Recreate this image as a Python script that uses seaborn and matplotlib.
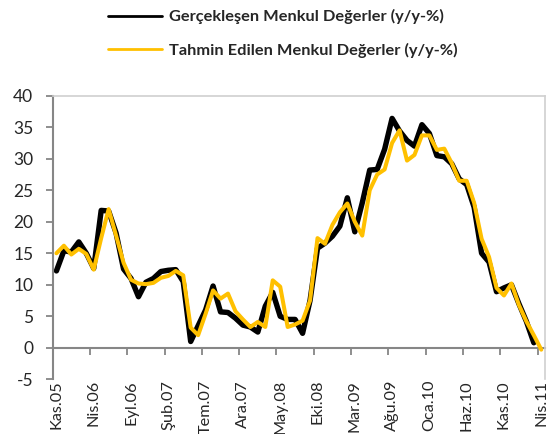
import numpy as np
import pandas as pd
import matplotlib
matplotlib.use("Agg")
import matplotlib.pyplot as plt
import seaborn as sns

# aylık veri: Kas.05 - Nis.11
etiketler = ["Kas.05", "Nis.06", "Eyl.06", "Şub.07", "Tem.07", "Ara.07", "May.08",
             "Eki.08", "Mar.09", "Ağu.09", "Oca.10", "Haz.10", "Kas.10", "Nis.11"]

gerceklesen = [12.2, 15.4, 15.2, 16.8, 15.0, 12.6, 21.8, 21.7, 18.2, 12.5,
               11.0, 8.1, 10.4, 11.0, 12.1, 12.3, 12.4, 10.5, 1.0, 3.5,
               6.0, 9.8, 5.7, 5.6, 4.7, 3.6, 3.3, 2.5, 6.6, 8.8,
               5.0, 4.5, 4.5, 2.3, 7.5, 15.8, 16.6, 17.7, 19.3, 23.8,
               18.4, 23.0, 28.2, 28.3, 31.5, 36.4, 34.4, 32.9, 32.0, 35.4,
               34.0, 30.5, 30.3, 29.2, 26.8, 25.9, 22.3, 15.0, 13.6, 8.9,
               9.5, 10.0, 7.0, 4.2, 0.8, np.nan]

tahmin = [15.0, 16.2, 14.8, 15.7, 14.9, 12.4, 17.4, 22.0, 17.8, 13.5,
          10.8, 10.2, 10.1, 10.3, 11.1, 11.4, 12.2, 11.5, 3.2, 2.0,
          5.4, 9.1, 7.8, 8.6, 5.8, 4.5, 3.3, 4.1, 3.3, 10.7,
          9.7, 3.3, 3.7, 4.3, 7.5, 17.4, 16.5, 19.5, 21.5, 22.9,
          20.0, 17.8, 25.0, 27.5, 28.3, 32.5, 34.5, 29.7, 30.6, 33.7,
          33.7, 31.4, 31.6, 29.3, 26.5, 26.5, 23.0, 17.3, 14.4, 9.5,
          8.3, 10.2, 6.8, 4.2, 2.0, -0.3]

ad1 = "Gerçekleşen Menkul Değerler (y/y-%)"
ad2 = "Tahmin Edilen Menkul Değerler (y/y-%)"

df = pd.DataFrame({"ay": np.arange(len(tahmin)) + 0.5, ad1: gerceklesen, ad2: tahmin})

sns.set_style("white")
plt.rcParams["font.family"] = ["Lato", "DejaVu Sans"]
plt.rcParams["axes.unicode_minus"] = False

fig = plt.figure(figsize=(5.47, 4.34), dpi=100)
ax = fig.add_axes([52.7 / 547, 1 - 379.3 / 434, (545 - 52.7) / 547, (379.3 - 95.7) / 434])

sns.lineplot(data=df, x="ay", y=ad1, color="black", lw=3.9, ax=ax, label=ad1, legend=False)
sns.lineplot(data=df, x="ay", y=ad2, color="#FFC000", lw=2.9, ax=ax, label=ad2, legend=False)

ax.set_xlim(0, len(tahmin))
ax.set_ylim(-5, 40)
ax.set_yticks(range(-5, 41, 5))
ax.set_xticks(np.arange(0, len(tahmin), 5) + 0.5)
ax.set_xticklabels(etiketler, rotation=90, fontsize=11.7)
ax.tick_params(axis="x", length=0, pad=0.5)
ax.tick_params(axis="y", direction="out", length=5, width=1.3, color="#868686",
               labelsize=12.5, pad=9, left=True)
ax.set_xlabel("")
ax.set_ylabel("")

for s in ["top", "right"]:
    ax.spines[s].set_color("#D0D0D0")
    ax.spines[s].set_linewidth(1.2)
ax.spines["bottom"].set_visible(False)
ax.spines["left"].set_color("#868686")
ax.spines["left"].set_linewidth(1.5)

# x ekseni 0 seviyesinde
sec = ax.secondary_xaxis(5 / 45)
sec.set_xticks(np.arange(0, len(tahmin), 5))
sec.set_xticklabels([])
sec.tick_params(direction="out", length=5, width=1.3, color="#868686")
sec.spines["bottom"].set_color("#868686")
sec.spines["bottom"].set_linewidth(1.5)

h, l = ax.get_legend_handles_labels()
leg = fig.legend(h, l, loc="upper left", bbox_to_anchor=(100 / 547, 1 - 1 / 434),
                 frameon=False, borderpad=0, handlelength=3.3, handletextpad=0.4,
                 labelspacing=1.15, prop={"weight": "bold", "size": 11.8})
for ln in leg.get_lines():
    ln.set_linewidth(2)

fig.savefig("out.png", dpi=100)
